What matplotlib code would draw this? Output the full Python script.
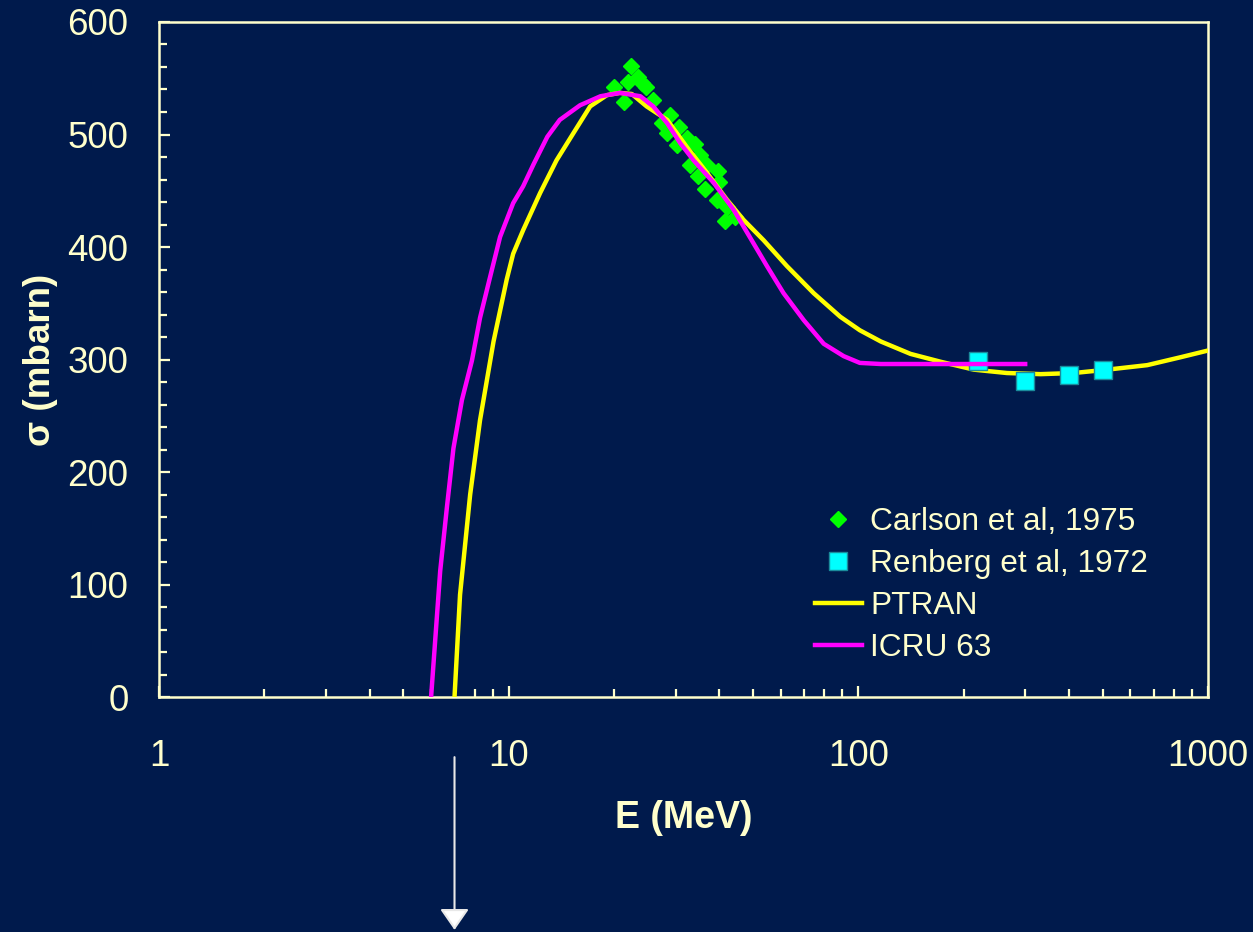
import numpy as np
import matplotlib
matplotlib.use('Agg')
import matplotlib.pyplot as plt
from matplotlib.ticker import LogLocator, MultipleLocator, FixedLocator, FixedFormatter

# PTRAN (yellow curve)
ptran_e = [7.0, 7.26, 7.76, 8.28, 9.05, 9.87, 10.3, 11.0, 12.3, 13.7, 15.3, 17.1, 19.1,
           20.8, 22.5, 24.8, 28.4, 32.3, 36.9, 42.1, 47.0, 53.6, 62.5, 74.5, 88.8, 101,
           116, 141, 172, 214, 266, 332, 413, 515, 670, 834, 1000]
ptran_s = [0, 91, 180, 246, 316, 371, 394, 415, 448, 477, 501, 525, 535,
           537, 536, 525, 513, 489, 466, 442, 424, 406, 383, 359, 338, 326,
           316, 305, 298, 291, 288, 287, 288, 291, 295, 302, 308]

# ICRU 63 (magenta curve)
icru_e = [6.0, 6.37, 6.66, 6.95, 7.35, 7.85, 8.28, 8.81, 9.45, 10.3, 11.0, 11.8, 12.9,
          14.0, 16.0, 18.3, 20.8, 23.8, 25.9, 28.4, 31.0, 33.8, 38.6, 44.0, 50.2, 54.8,
          61.1, 69.8, 79.6, 90.8, 101, 116, 150, 200, 300]
icru_s = [0, 112, 169, 221, 264, 299, 337, 371, 409, 439, 454, 474, 498,
          513, 526, 534, 537, 534, 525, 510, 492, 477, 457, 433, 403, 383,
          359, 335, 314, 303, 297, 296, 296, 296, 296]

# Carlson et al, 1975
carlson_e = [19.95, 21.4, 21.9, 22.4, 23.5, 24.0, 24.7, 25.9, 27.4, 28.4, 29.0, 30.3,
             30.6, 32.3, 33.1, 34.2, 34.9, 35.3, 36.5, 36.9, 39.4, 39.8, 40.0, 41.6,
             42.1, 44.5]
carlson_s = [542, 529, 547, 561, 551, 546, 542, 531, 510, 501, 517, 491,
             507, 497, 473, 492, 463, 482, 452, 473, 442, 468, 458, 423,
             436, 427]

# Renberg et al, 1972
renberg_e = [220, 300, 400, 500]
renberg_s = [299, 281, 286, 291]

x_ticks = [1, 10, 100, 1000]
x_labels = ['1', '10', '100', '1000']

bg = '#001a4c'
fg = '#ffffcc'
plt.rcParams['font.family'] = ['Liberation Sans', 'DejaVu Sans']

fig = plt.figure(figsize=(12.53, 9.32), dpi=100, facecolor=bg)
ax = fig.add_axes([0.1269, 0.2521, 0.8372, 0.7243], facecolor=bg)

ax.plot(carlson_e, carlson_s, linestyle='none', marker='D', ms=8, color='#00ff00',
        mec='#00ff00', label='Carlson et al, 1975', zorder=2)
ax.plot(ptran_e, ptran_s, color='#ffff00', lw=3.2, label='PTRAN', zorder=3)
ax.plot(renberg_e, renberg_s, linestyle='none', marker='s', ms=13.5, color='#00ffff',
        mec='#1a8c9c', mew=1, label='Renberg et al, 1972', zorder=4)
ax.plot(icru_e, icru_s, color='#ff00ff', lw=3.2, label='ICRU 63', zorder=5)

ax.set_xscale('log')
ax.set_xlim(1, 1000)
ax.set_ylim(0, 600)
ax.xaxis.set_major_locator(FixedLocator(x_ticks))
ax.xaxis.set_major_formatter(FixedFormatter(x_labels))
ax.xaxis.set_minor_locator(LogLocator(base=10, subs=np.arange(2, 10)))
ax.xaxis.set_minor_formatter(plt.NullFormatter())
ax.yaxis.set_major_locator(MultipleLocator(100))
ax.yaxis.set_minor_locator(MultipleLocator(20))

for s in ax.spines.values():
    s.set_color(fg)
    s.set_linewidth(1.8)
ax.tick_params(which='both', direction='in', colors=fg, width=1.6, labelsize=26.5)
ax.tick_params(axis='x', which='major', length=8, pad=30)
ax.tick_params(axis='x', which='minor', length=5.5)
ax.tick_params(axis='y', which='major', length=8, pad=22)
ax.tick_params(axis='y', which='minor', length=5.5)

ax.set_xlabel('E (MeV)', color=fg, fontsize=27, fontweight='bold', labelpad=19)
ax.set_ylabel('σ (mbarn)', color=fg, fontsize=26.5, fontweight='bold', labelpad=7)

handles, labels = ax.get_legend_handles_labels()
order = [0, 2, 1, 3]
leg = ax.legend([handles[i] for i in order], [labels[i] for i in order],
                loc='upper left', bbox_to_anchor=(0.625, 0.281), frameon=False,
                fontsize=22.8, handlelength=1.5, handletextpad=0.25, labelspacing=0.38,
                borderpad=0, borderaxespad=0)
for t in leg.get_texts():
    t.set_color(fg)

# arrow below the axis at the PTRAN threshold
ax.annotate('', xy=(7, -0.345), xytext=(7, -0.089),
            xycoords=('data', 'axes fraction'), textcoords=('data', 'axes fraction'),
            arrowprops=dict(arrowstyle='-|>,head_length=0.65,head_width=0.45',
                            color='#e8e8e8', fc='white', lw=1.5, mutation_scale=20,
                            shrinkA=0, shrinkB=0),
            annotation_clip=False)

fig.savefig('out.png', dpi=100, facecolor=bg)
